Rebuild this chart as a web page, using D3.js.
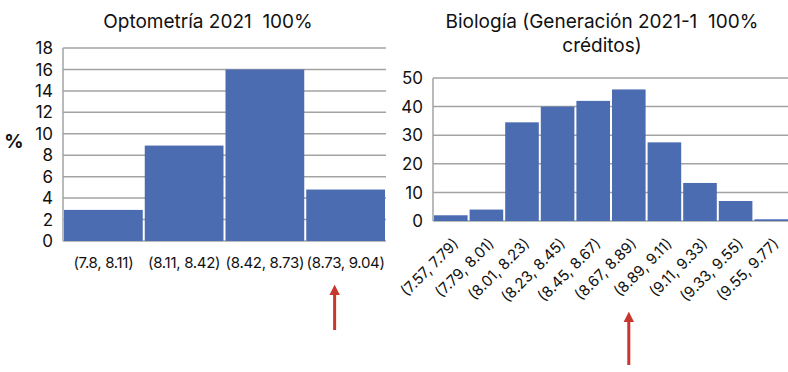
<!DOCTYPE html>
<html>
<head>
<meta charset="utf-8">
<script src="https://cdn.jsdelivr.net/npm/d3@7"></script>
<style>
  body { margin: 0; background: #fff; }
  svg { display: block; font-family: Inter, "Open Sans", sans-serif; }
</style>
</head>
<body>
<svg id="chart" width="788" height="372"></svg>
<script>
// Optometría
let optoBins = ["(7.8, 8.11)", "(8.11, 8.42)", "(8.42, 8.73)", "(8.73, 9.04)"];
let optoValues = [2.9, 8.9, 16, 4.8];
let optoTicks = [0, 2, 4, 6, 8, 10, 12, 14, 16, 18];

// Biología
let bioBins = ["(7.57, 7.79)", "(7.79, 8.01)", "(8.01, 8.23)", "(8.23, 8.45)", "(8.45, 8.67)",
               "(8.67, 8.89)", "(8.89, 9.11)", "(9.11, 9.33)", "(9.33, 9.55)", "(9.55, 9.77)"];
let bioValues = [2, 4, 34.5, 40, 42, 46, 27.5, 13.3, 7, 0.6];
let bioTicks = [0, 10, 20, 30, 40, 50];

let barColor = "#4b6cb0", gridColor = "#a3a3a3", arrowColor = "#c8372d";

let svg = d3.select("#chart");

svg.append("defs").append("marker")
    .attr("id", "head")
    .attr("viewBox", "0 0 10 10")
    .attr("refX", 5).attr("refY", 5)
    .attr("markerWidth", 3.6).attr("markerHeight", 3.6)
    .attr("orient", "auto")
    .append("path")
    .attr("d", "M0,0 L10,5 L0,10 Z")
    .attr("fill", arrowColor);

function histogram(opts) {
    let x = d3.scaleBand().domain(opts.bins).range([opts.left, opts.right]).padding(0);
    let y = d3.scaleLinear().domain([0, d3.max(opts.ticks)]).range([opts.bottom, opts.top]);
    let g = svg.append("g");

    // gridlines
    g.selectAll(".grid")
        .data(opts.ticks)
        .enter()
        .append("line")
        .attr("x1", opts.left)
        .attr("x2", opts.right)
        .attr("y1", d => y(d))
        .attr("y2", d => y(d))
        .attr("stroke", gridColor)
        .attr("stroke-width", 1.5);

    g.append("line")
        .attr("x1", opts.left).attr("x2", opts.left)
        .attr("y1", y(d3.max(opts.ticks))).attr("y2", opts.bottom)
        .attr("stroke", gridColor)
        .attr("stroke-width", 1.5);

    // bars
    g.selectAll(".bar")
        .data(opts.bins)
        .enter()
        .append("rect")
        .attr("x", d => x(d) + 1)
        .attr("y", (d, i) => y(opts.values[i]))
        .attr("width", x.bandwidth() - 2)
        .attr("height", (d, i) => opts.bottom - y(opts.values[i]))
        .attr("fill", barColor);

    // y tick labels
    g.selectAll(".ytick")
        .data(opts.ticks)
        .enter()
        .append("text")
        .text(d => d)
        .attr("x", opts.left - 10)
        .attr("y", d => y(d))
        .attr("dy", "0.36em")
        .attr("text-anchor", "end")
        .attr("font-size", "17px")
        .attr("fill", "#111");

    // x tick labels
    let xl = g.selectAll(".xtick")
        .data(opts.bins)
        .enter()
        .append("text")
        .text(d => d)
        .attr("font-size", opts.labelSize)
        .attr("letter-spacing", opts.labelSpacing)
        .attr("fill", "#111");

    if (opts.rotate) {
        xl.attr("text-anchor", "end")
          .attr("dy", "0.35em")
          .attr("transform", d => "translate(" + (x(d) + x.bandwidth() / 2 + 5) + "," + (opts.bottom + 20) + ") rotate(-45)");
    } else {
        xl.attr("text-anchor", "middle")
          .attr("x", d => x(d) + x.bandwidth() / 2)
          .attr("y", opts.bottom + 27);
    }

    // title
    g.selectAll(".title")
        .data(opts.title)
        .enter()
        .append("text")
        .text(d => d)
        .attr("x", opts.titleX)
        .attr("y", (d, i) => opts.titleY + i * 24)
        .attr("text-anchor", "middle")
        .attr("font-size", "19px")
        .attr("fill", "#111")
        .style("white-space", "pre");

    // arrow pointing to the bin
    let ax = x(opts.bins[opts.arrowBin]) + x.bandwidth() / 2 + opts.arrowShift;
    g.append("line")
        .attr("x1", ax).attr("x2", ax)
        .attr("y1", opts.arrowY[1]).attr("y2", opts.arrowY[0] + 7)
        .attr("stroke", arrowColor)
        .attr("stroke-width", 3)
        .attr("marker-end", "url(#head)");
}

histogram({
    bins: optoBins, values: optoValues, ticks: optoTicks,
    left: 63, right: 386, top: 48, bottom: 241,
    rotate: false, labelSize: "15px", labelSpacing: "-0.3px",
    title: ["Optometría 2021  100%"], titleX: 208, titleY: 28,
    arrowBin: 3, arrowShift: -11, arrowY: [283, 330]
});

histogram({
    bins: bioBins, values: bioValues, ticks: bioTicks,
    left: 433, right: 789, top: 78, bottom: 221,
    rotate: true, labelSize: "15px", labelSpacing: "0px",
    title: ["Biología (Generación 2021-1  100%", "créditos)"], titleX: 602, titleY: 28,
    arrowBin: 5, arrowShift: 0, arrowY: [310, 365]
});

svg.append("text")
    .text("%")
    .attr("x", 14)
    .attr("y", 141)
    .attr("dy", "0.36em")
    .attr("text-anchor", "middle")
    .attr("font-size", "19px")
    .attr("font-weight", "bold")
    .attr("fill", "#111");
</script>
</body>
</html>
